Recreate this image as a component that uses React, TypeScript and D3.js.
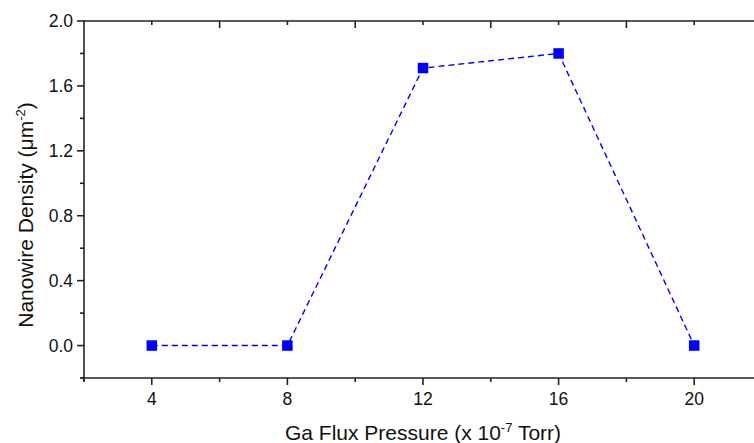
import React, { useEffect, useRef } from 'react';
import * as d3 from 'd3';

// data
const pressures = [4, 8, 12, 16, 20];
const densities = [0, 0, 1.71, 1.8, 0];
const xTicks = [4, 8, 12, 16, 20];
const xMinorTicks = [2, 6, 10, 14, 18, 22];
const yTicks = [0, 0.4, 0.8, 1.2, 1.6, 2.0];
const yMinorTicks = [-0.2, 0.2, 0.6, 1.0, 1.4, 1.8];

const App = () => {
  const chartRef = useRef<SVGSVGElement>(null);

  useEffect(() => {
    const width = 754;
    const height = 443;
    const left = 84, right = 762, top = 21, bottom = 378;
    const axisColor = '#222';
    const font = 'Arial, "Liberation Sans", sans-serif';

    const svg = d3.select(chartRef.current);
    svg.selectAll('*').remove();
    svg.attr('width', width).attr('height', height);

    const x = d3.scaleLinear().domain([2, 22]).range([left, right]);
    const y = d3.scaleLinear().domain([-0.2, 2.0]).range([bottom, top]);

    // dashed connecting line
    const line = d3.line<number>()
      .x((d, i) => x(pressures[i]))
      .y(d => y(d));

    svg.append('path')
      .datum(densities)
      .attr('d', line)
      .attr('fill', 'none')
      .attr('stroke', '#0000ff')
      .attr('stroke-width', 1.4)
      .attr('stroke-dasharray', '6,4');

    // square markers
    const s = 10.5;
    svg.selectAll('rect.pt')
      .data(densities)
      .enter().append('rect')
      .attr('class', 'pt')
      .attr('x', (d, i) => x(pressures[i]) - s / 2)
      .attr('y', d => y(d) - s / 2)
      .attr('width', s)
      .attr('height', s)
      .attr('fill', '#0000ff');

    // frame lines
    const g = svg.append('g').attr('stroke', axisColor).attr('stroke-width', 1.6);
    g.append('line').attr('x1', left).attr('x2', left).attr('y1', top).attr('y2', bottom + 3);
    g.append('line').attr('x1', left - 3).attr('x2', right).attr('y1', bottom).attr('y2', bottom);
    g.append('line').attr('x1', left).attr('x2', right).attr('y1', top).attr('y2', top);

    // bottom ticks (outward)
    xTicks.forEach(t => g.append('line').attr('x1', x(t)).attr('x2', x(t)).attr('y1', bottom).attr('y2', bottom + 7));
    xMinorTicks.forEach(t => g.append('line').attr('x1', x(t)).attr('x2', x(t)).attr('y1', bottom).attr('y2', bottom + 4));
    // top ticks (inward, offset like the original)
    xMinorTicks.slice(1).forEach(t => g.append('line').attr('x1', x(t)).attr('x2', x(t)).attr('y1', top).attr('y2', top + 7));
    xTicks.forEach(t => g.append('line').attr('x1', x(t)).attr('x2', x(t)).attr('y1', top).attr('y2', top + 4));
    // left ticks (outward)
    yTicks.forEach(t => g.append('line').attr('x1', left - 7).attr('x2', left).attr('y1', y(t)).attr('y2', y(t)));
    yMinorTicks.forEach(t => g.append('line').attr('x1', left - 4).attr('x2', left).attr('y1', y(t)).attr('y2', y(t)));

    // tick labels
    svg.selectAll('text.xl')
      .data(xTicks)
      .enter().append('text')
      .attr('class', 'xl')
      .attr('x', d => x(d))
      .attr('y', bottom + 27)
      .attr('text-anchor', 'middle')
      .style('font-family', font)
      .style('font-size', '17.5px')
      .attr('fill', '#111')
      .text(d => d);

    svg.selectAll('text.yl')
      .data(yTicks)
      .enter().append('text')
      .attr('class', 'yl')
      .attr('x', left - 11)
      .attr('y', d => y(d) + 6)
      .attr('text-anchor', 'end')
      .style('font-family', font)
      .style('font-size', '17.5px')
      .attr('fill', '#111')
      .text(d => d3.format('.1f')(d));

    // axis titles
    const xt = svg.append('text')
      .attr('x', x(12))
      .attr('y', 440)
      .attr('text-anchor', 'middle')
      .style('font-family', font)
      .style('font-size', '21px')
      .attr('fill', '#111');
    xt.append('tspan').text('Ga Flux Pressure (x 10');
    xt.append('tspan').attr('dy', -8).style('font-size', '13px').text('-7');
    xt.append('tspan').attr('dy', 8).text(' Torr)');

    const yt = svg.append('text')
      .attr('transform', `translate(33,215) rotate(-90)`)
      .attr('text-anchor', 'middle')
      .style('font-family', font)
      .style('font-size', '21px')
      .attr('fill', '#111');
    yt.append('tspan').text('Nanowire Density (\u03bcm');
    yt.append('tspan').attr('dy', -8).style('font-size', '13px').text('-2');
    yt.append('tspan').attr('dy', 8).text(')');
  }, []);

  return (
    <div>
      <svg ref={chartRef} style={{ position: 'absolute', left: 0, top: 0 }}></svg>
    </div>
  );
};

export default App;
